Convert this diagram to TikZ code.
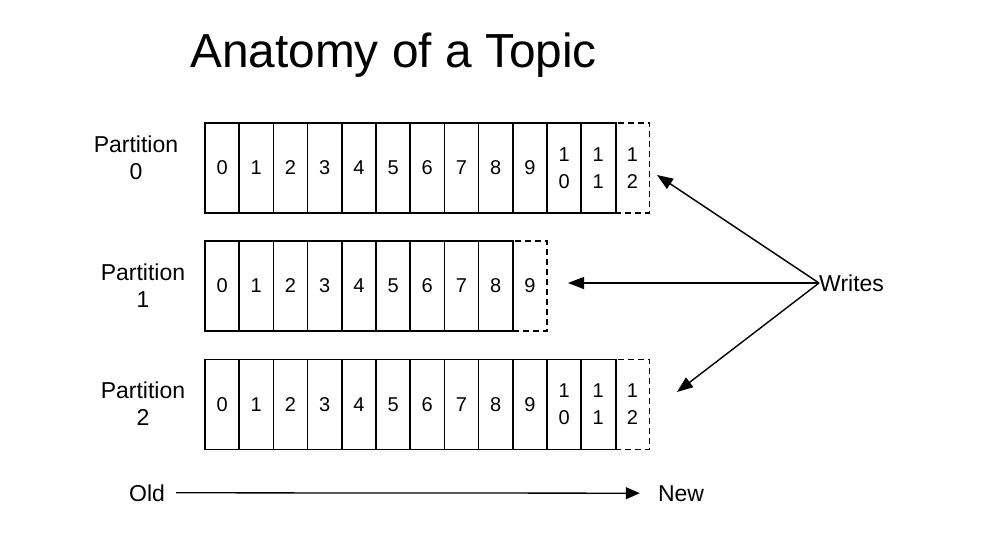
\documentclass[tikz,border=0pt]{standalone}
\usepackage{fontspec}
\setmainfont{Liberation Sans}
\usetikzlibrary{arrows.meta}
\tikzset{
  cell/.style={draw, line width=1.5pt, minimum width=34.2pt, minimum height=90pt, inner sep=0pt,
    align=center, font=\fontsize{20}{27}\selectfont},
  newcell/.style={cell, dashed, dash pattern=on 6pt off 4pt},
  label/.style={align=center, inner sep=0pt, font=\fontsize{23}{27}\selectfont},
  conn/.style={line width=1.4pt, -{Triangle[length=16pt,width=12pt]}},
}
\begin{document}
\begin{tikzpicture}[x=1pt,y=-1pt]
\useasboundingbox (0,0) rectangle (1000,536);
\node[anchor=base west, inner sep=0pt, font=\fontsize{47.8}{50}\selectfont] (title) at (190,67) {Anatomy of a Topic};
% partition 0
\foreach \i in {0,...,9} {
  \node[cell] (p0c\i) at ({205+34.2*\i+17.1},168) {\i};
}
\node[cell] (p0c10) at ({205+34.2*10+17.1},168) {1\\0};
\node[cell] (p0c11) at ({205+34.2*11+17.1},168) {1\\1};
\node[newcell] (p0c12) at ({205+34.2*12+17.1},168) {1\\2};
% partition 1
\foreach \i in {0,...,8} {
  \node[cell] (p1c\i) at ({205+34.2*\i+17.1},286) {\i};
}
\node[newcell] (p1c9) at ({205+34.2*9+17.1},286) {9};
% partition 2
\foreach \i in {0,...,9} {
  \node[cell] (p2c\i) at ({205+34.2*\i+17.1},404.5) {\i};
}
\node[cell] (p2c10) at ({205+34.2*10+17.1},404.5) {1\\0};
\node[cell] (p2c11) at ({205+34.2*11+17.1},404.5) {1\\1};
\node[newcell] (p2c12) at ({205+34.2*12+17.1},404.5) {1\\2};
% redraw solid borders over dashed neighbours
\foreach \r/\c in {0/11,1/8,2/11} {
  \draw[line width=1.5pt] (p\r c\c.north east) -- (p\r c\c.south east);
}
% partition labels
\node[label] (l0) at (136,158) {Partition\\0};
\node[label] (l1) at (143,286) {Partition\\1};
\node[label] (l2) at (143,404) {Partition\\2};
% writes
\node[label, anchor=west] (writes) at (819,283) {Writes};
\coordinate (t0) at (657,175);
\coordinate (t1) at (568,283);
\coordinate (t2) at (677,392);
\draw[conn] (writes.west) -- (t0);
\draw[conn] (writes.west) -- (t1);
\draw[conn] (writes.west) -- (t2);
% old / new
\node[label, anchor=base] (old) at (147,501) {Old};
\node[label, anchor=base] (new) at (681,501) {New};
\draw[conn, line width=1.3pt, -{Triangle[length=14pt,width=12pt]}, shorten <=11pt, shorten >=18pt] (old.east) -- (new.west);
\end{tikzpicture}
\end{document}
